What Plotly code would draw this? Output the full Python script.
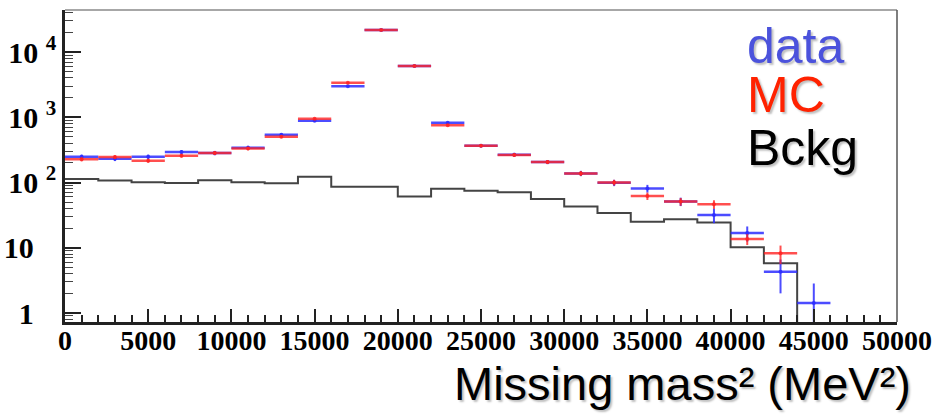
import plotly.graph_objects as go

# Missing mass squared spectrum, 2000 MeV^2 bins from 0 to 50000
BIN_WIDTH = 2000
bin_low_edges = list(range(0, 50000, BIN_WIDTH))
bin_centres = [e + BIN_WIDTH / 2 for e in bin_low_edges]

# Measured counts per bin with statistical errors
data_counts = [248, 232, 248, 293, 283, 341, 540, 885, 2980, 21700, 6100,
               826, 366, 267, 206, 138, 99, 81, 51, 31.8, 16.8, 4.3, 1.42]
data_errors = [20, 19, 20, 22, 22, 25, 30, 35, 60, 150, 80,
               30, 20, 18, 15, 13, 11, 11, 7.5, 8, 4.4, 2.3, 1.42]

# Simulated signal + background
mc_counts = [227, 246, 216, 258, 283, 332, 504, 950, 3390, 21700, 6100,
             753, 366, 264, 206, 138, 100, 62, 51, 46.4, 13.6, 8.2]
mc_errors = [16, 16, 15, 17, 18, 20, 25, 30, 50, 130, 70,
             25, 18, 16, 14, 12, 10, 8, 7, 7, 2.6, 2.6]

# Background estimate (empty bins are zero)
bckg_counts = [113, 107, 101, 98, 108, 101, 97, 122, 86, 86, 61,
               80, 75, 71, 56, 43, 34, 25, 27.3, 24.4, 10.2, 5.8, 0, 0, 0]

x_tick_values = list(range(0, 50001, 5000))
x_tick_labels = [str(v) for v in x_tick_values]
y_tick_values = [1, 10, 100, 1000, 10000]
pad = "\u00a0\u00a0\u00a0"
y_tick_labels = ["1" + pad, "10" + pad, "10 <sup>2</sup>", "10 <sup>3</sup>", "10 <sup>4</sup>"]
y_minor_values = [m * 10 ** d for d in range(-1, 5) for m in range(2, 10)]

X_LABEL_FONT = dict(family="Liberation Serif", size=28, color="black", weight="bold")
Y_LABEL_FONT = dict(family="Liberation Serif", size=30, color="black", weight="bold")
BLUE = "rgba(45,45,255,0.85)"
RED = "rgba(255,35,35,0.8)"

fig = go.Figure()

# Background: step outline; empty bins are pushed below the visible range
floor = 1e-3
step_x = bin_low_edges + [bin_low_edges[-1] + BIN_WIDTH]
step_y = [v if v > 0 else floor for v in bckg_counts]
step_y = step_y + [step_y[-1]]
fig.add_trace(go.Scatter(
    x=step_x, y=step_y, mode="lines", line_shape="hv",
    line=dict(color="rgba(35,35,35,0.85)", width=2),
    name="Bckg", hoverinfo="skip",
))

fig.add_trace(go.Scatter(
    x=bin_centres[:len(data_counts)], y=data_counts, mode="markers",
    marker=dict(color=BLUE, size=4),
    error_x=dict(type="data", array=[BIN_WIDTH / 2] * len(data_counts),
                 color=BLUE, thickness=2.5, width=0),
    error_y=dict(type="data", array=data_errors, color=BLUE, thickness=2, width=0),
    name="data",
))

fig.add_trace(go.Scatter(
    x=bin_centres[:len(mc_counts)], y=mc_counts, mode="markers",
    marker=dict(color=RED, size=4),
    error_x=dict(type="data", array=[BIN_WIDTH / 2] * len(mc_counts),
                 color=RED, thickness=2.5, width=0),
    error_y=dict(type="data", array=mc_errors, color=RED, thickness=2, width=0),
    name="MC",
))

fig.update_layout(
    width=946, height=415,
    margin=dict(l=65, r=49, t=10, b=93, autoexpand=False),
    paper_bgcolor="white", plot_bgcolor="white",
    showlegend=False,
    xaxis=dict(
        range=[0, 50000], tickvals=x_tick_values, ticktext=x_tick_labels,
        ticks="inside", ticklen=13, tickwidth=1.5, tickcolor="#222",
        minor=dict(ticks="inside", ticklen=7, dtick=1000, tickwidth=1.5, tickcolor="#222"),
        showline=True, linecolor="#222", linewidth=2.5,
        showgrid=False, zeroline=False, tickfont=X_LABEL_FONT,
        ticklabelstandoff=-8, automargin=False,
    ),
    yaxis=dict(
        type="log", range=[-0.138, 4.644],
        tickvals=y_tick_values, ticktext=y_tick_labels,
        ticks="inside", ticklen=16, tickwidth=1.5, tickcolor="#222",
        minor=dict(ticks="inside", ticklen=8, tickvals=y_minor_values,
                   tickwidth=1.2, tickcolor="#444"),
        showline=True, linecolor="#222", linewidth=2.5,
        showgrid=False, zeroline=False, tickfont=Y_LABEL_FONT,
        automargin=False,
    ),
    shapes=[
        dict(type="line", xref="paper", yref="paper", x0=0, x1=1, y0=1, y1=1,
             line=dict(color="#8a8a8a", width=1.5)),
        dict(type="line", xref="paper", yref="paper", x0=1, x1=1, y0=0, y1=1,
             line=dict(color="#555", width=1.5)),
    ],
)

shadow = "2px 2px 2px rgba(0,0,0,0.25)"
legend_entries = [("data", "#4b52dc", 0.790), ("MC", "#ff2200", 0.630), ("Bckg", "black", 0.463)]
for text, colour, ypos in legend_entries:
    fig.add_annotation(
        text=text, xref="paper", yref="paper", x=(745 - 65) / 832, y=ypos,
        xanchor="left", yanchor="bottom", showarrow=False,
        font=dict(family="Liberation Sans", size=50, color=colour, shadow=shadow),
    )

fig.add_annotation(
    text="Missing mass² (MeV²)",
    xref="paper", yref="paper", x=(913 - 65) / 832, y=-0.287,
    xanchor="right", yanchor="bottom", showarrow=False,
    font=dict(family="Liberation Sans", size=47, color="black", shadow=shadow),
)

fig.write_html("out.html")
